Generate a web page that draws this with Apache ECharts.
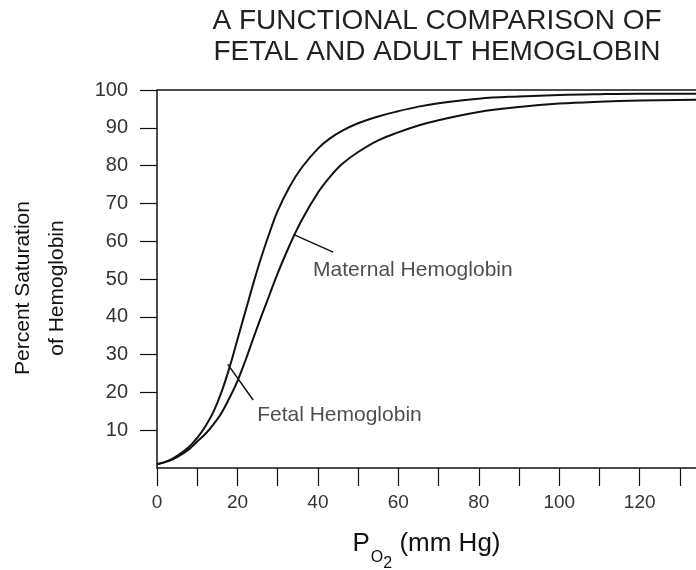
<!DOCTYPE html>
<html>
<head>
<meta charset="utf-8">
<script src="https://cdn.jsdelivr.net/npm/echarts@6/dist/echarts.min.js"></script>
<style>
  html, body { margin: 0; padding: 0; background: #fff; }
  #chart { width: 696px; height: 570px; }
</style>
</head>
<body>
<div id="chart"></div>
<script>
// oxygen partial pressure (mm Hg) and % saturation
const po2 = [0, 3, 5, 8, 10, 12, 14, 16, 18, 20, 22, 24, 26, 28, 30, 33, 36, 40, 43, 46, 50, 55, 60, 65, 70, 80, 90, 100, 110, 120, 134];
const fetal = [1, 2, 3.2, 5.6, 8, 11, 14.8, 20, 26.5, 34, 41.5, 49, 56, 62.3, 68, 74.5, 79.5, 84.5, 87.2, 89.2, 91.2, 93, 94.4, 95.6, 96.5, 97.7, 98.3, 98.7, 98.9, 99, 99];
const maternal = [1, 1.9, 2.9, 5, 7, 9, 11.5, 14.5, 18.5, 23, 28.5, 34.5, 40.3, 45.9, 51.5, 59, 65.6, 72.8, 77, 80.4, 83.6, 86.7, 88.8, 90.6, 92, 94.2, 95.5, 96.4, 96.9, 97.2, 97.4];

const xTicks = [0, 10, 20, 30, 40, 50, 60, 70, 80, 90, 100, 110, 120, 130];
const xLabels = [0, 20, 40, 60, 80, 100, 120];
const yTicks = [10, 20, 30, 40, 50, 60, 70, 80, 90, 100];

// annotation leader lines and label anchors (data coords)
const fetalPointer = [[17.6, 27.4], [23.9, 18.0]];
const maternalPointer = [[34.3, 61.6], [43.8, 57.1]];
const fetalLabelAt = [24.9, 14];
const maternalLabelAt = [38.8, 52.4];

const font = '"Liberation Sans", Arial, Helvetica, sans-serif';
const ink = '#111';

const chart = echarts.init(document.getElementById('chart'));

const curve = (name, vals) => ({
  name,
  type: 'line',
  data: po2.map((x, i) => [x, vals[i]]),
  smooth: 0.4,
  showSymbol: false,
  lineStyle: { color: ink, width: 2 },
  silent: true
});

const pointer = (pts) => ({
  type: 'line',
  data: pts,
  showSymbol: false,
  lineStyle: { color: ink, width: 1.5 },
  silent: true
});

const tag = (at, text) => ({
  type: 'scatter',
  data: [at],
  symbolSize: 0,
  silent: true,
  label: {
    show: true,
    position: 'right',
    distance: 0,
    formatter: text,
    fontFamily: font,
    fontSize: 21,
    color: '#222'
  }
});

chart.setOption({
  animation: false,
  backgroundColor: '#fff',
  graphic: [{
    type: 'text',
    x: 437,
    y: 6,
    style: {
      text: 'A FUNCTIONAL COMPARISON OF\nFETAL AND ADULT HEMOGLOBIN',
      textAlign: 'center',
      fontFamily: font,
      fontSize: 28,
      lineHeight: 31,
      fill: '#222'
    }
  }],
  grid: { left: 157, right: 0, top: 90, bottom: 102, outerBoundsMode: 'none', containLabel: false },
  xAxis: {
    type: 'value',
    min: 0,
    max: 134,
    name: '{p|P}{o|O}{s|2}{t| (mm Hg)}',
    nameLocation: 'middle',
    nameGap: 63,
    nameTextStyle: {
      fontFamily: font,
      color: ink,
      rich: {
        p: { fontSize: 26, verticalAlign: 'top', fontFamily: font, color: ink },
        o: { fontSize: 16, verticalAlign: 'top', padding: [19, 0, 0, 1], fontFamily: font, color: ink },
        s: { fontSize: 16, verticalAlign: 'top', padding: [25, 0, 0, 0], fontFamily: font, color: ink },
        t: { fontSize: 26, verticalAlign: 'top', fontFamily: font, color: ink }
      }
    },
    axisLine: { lineStyle: { color: ink, width: 1.5 } },
    axisTick: { show: true, length: 18, customValues: xTicks, lineStyle: { color: ink, width: 1.2 } },
    axisLabel: { customValues: xLabels, margin: 25, fontFamily: font, fontSize: 19, color: '#333' },
    splitLine: { show: false }
  },
  yAxis: {
    type: 'value',
    min: 0,
    max: 100,
    name: 'Percent Saturation\nof Hemoglobin',
    nameLocation: 'middle',
    nameGap: 83,
    nameTextStyle: { fontFamily: font, fontSize: 21, lineHeight: 34, color: ink, padding: [0, 18, 0, 0] },
    axisLine: { show: true, lineStyle: { color: ink, width: 1.5 } },
    axisTick: { show: true, length: 17, customValues: yTicks, lineStyle: { color: ink, width: 1.2 } },
    axisLabel: { customValues: yTicks, margin: 29, fontFamily: font, fontSize: 20, color: '#333' },
    splitLine: { show: false }
  },
  series: [
    Object.assign(curve('Fetal Hemoglobin', fetal), {
      markLine: {
        silent: true,
        symbol: ['none', 'none'],
        label: { show: false },
        lineStyle: { color: ink, width: 1.5, type: 'solid' },
        data: [{ yAxis: 100 }]
      }
    }),
    curve('Maternal Hemoglobin', maternal),
    pointer(fetalPointer),
    pointer(maternalPointer),
    tag(fetalLabelAt, 'Fetal Hemoglobin'),
    tag(maternalLabelAt, 'Maternal Hemoglobin')
  ]
});
</script>
</body>
</html>
